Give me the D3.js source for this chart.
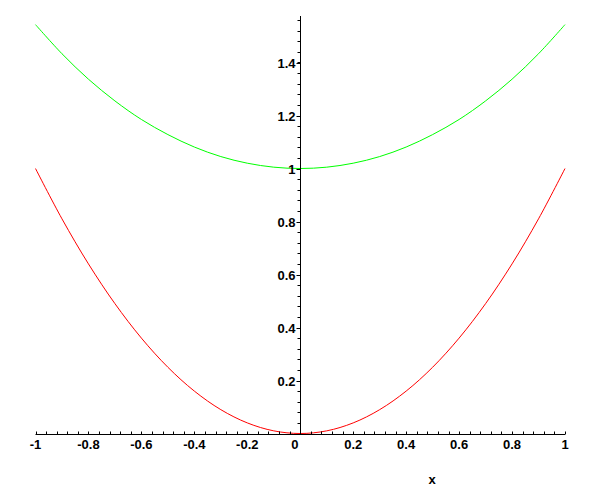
<!DOCTYPE html>
<html><head><meta charset="utf-8">
<script src="https://cdn.jsdelivr.net/npm/d3@7"></script>
<style>body{margin:0;background:#fff}svg{display:block}</style>
</head><body>
<script>
const xs = [-1,-0.9,-0.8,-0.7,-0.6,-0.5,-0.4,-0.3,-0.2,-0.1,0,0.1,0.2,0.3,0.4,0.5,0.6,0.7,0.8,0.9,1];
const redVals = [1,0.81,0.64,0.49,0.36,0.25,0.16,0.09,0.04,0.01,0,0.01,0.04,0.09,0.16,0.25,0.36,0.49,0.64,0.81,1];
const greenVals = [1.543,1.433,1.337,1.255,1.185,1.128,1.081,1.045,1.020,1.005,1,1.005,1.020,1.045,1.081,1.128,1.185,1.255,1.337,1.433,1.543];
const xTickLabels = [-1,-0.8,-0.6,-0.4,-0.2,0,0.2,0.4,0.6,0.8,1];
const yTickLabels = [0.2,0.4,0.6,0.8,1,1.2,1.4];

const W=600,H=501;
const svg=d3.select("body").append("svg").attr("width",W).attr("height",H);
const x=d3.scaleLinear().domain([-1,1]).range([35.5,565]);
const y=d3.scaleLinear().domain([0,1]).range([433.5,168.5]);
const x0=Math.round(x(0))+0.5, y0=Math.round(y(0))+0.5;

const line=d3.line().x((d,i)=>x(xs[i])).y(d=>y(d)).curve(d3.curveCatmullRom);
svg.append("path").attr("d",line(redVals)).attr("fill","none").attr("stroke","#ff0000").attr("stroke-width",1);
svg.append("path").attr("d",line(greenVals)).attr("fill","none").attr("stroke","#00ff00").attr("stroke-width",1);

const font='"Liberation Sans", Arial, sans-serif';
// x axis
svg.append("line").attr("x1",x(-1)).attr("x2",x(1)).attr("y1",y0).attr("y2",y0).attr("stroke","#000");
const minorX=d3.range(-25,26).map(i=>i*0.04);
svg.selectAll(".mx").data(minorX).enter().append("line")
  .attr("x1",d=>Math.round(x(d))+0.5).attr("x2",d=>Math.round(x(d))+0.5)
  .attr("y1",y0).attr("y2",y0-3).attr("stroke","#000");
svg.selectAll(".xl").data(xTickLabels).enter().append("text")
  .attr("x",d=>d===0?x(d)-9:x(d)).attr("y",449)
  .attr("text-anchor",d=>d===0?"start":"middle")
  .attr("font-family",font).attr("font-weight","bold").attr("font-size",13)
  .text(d=>String(d).replace("0.","0.").replace(/^-0\./,"-0."));
// y axis
svg.append("line").attr("x1",x0).attr("x2",x0).attr("y1",y0).attr("y2",16).attr("stroke","#000");
const minorY=d3.range(1,40).map(i=>i*0.04);
svg.selectAll(".my").data(minorY).enter().append("line")
  .attr("x1",x0).attr("x2",x0-3)
  .attr("y1",d=>Math.round(y(d))+0.5).attr("y2",d=>Math.round(y(d))+0.5).attr("stroke","#000");
svg.selectAll(".yt").data(yTickLabels).enter().append("line")
  .attr("x1",x0).attr("x2",x0-4)
  .attr("y1",d=>Math.round(y(d))+0.5).attr("y2",d=>Math.round(y(d))+0.5).attr("stroke","#000");
svg.selectAll(".yl").data(yTickLabels).enter().append("text")
  .attr("x",x0-5).attr("y",d=>y(d)+5)
  .attr("text-anchor","end")
  .attr("font-family",font).attr("font-weight","bold").attr("font-size",13)
  .text(d=>String(d));
svg.append("text").attr("x",432).attr("y",484).attr("text-anchor","middle")
  .attr("font-family",font).attr("font-weight","bold").attr("font-size",13).text("x");
</script>
</body></html>
